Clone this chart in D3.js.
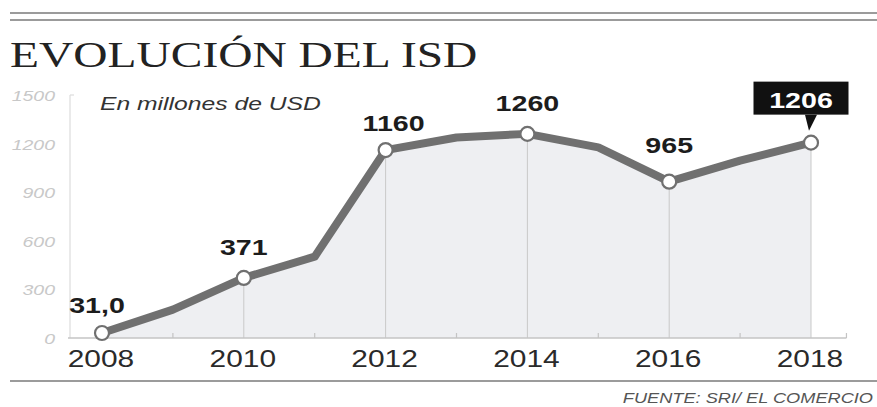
<!DOCTYPE html>
<html>
<head>
<meta charset="utf-8">
<script src="https://cdn.jsdelivr.net/npm/d3@7"></script>
<style>
  html, body { margin: 0; padding: 0; background: #fff; }
  svg { display: block; }
</style>
</head>
<body>
<div id="chart"></div>
<script>
// Data
const years = [2008, 2009, 2010, 2011, 2012, 2013, 2014, 2015, 2016, 2017, 2018];
const values = [31, 175, 371, 502, 1160, 1238, 1260, 1177, 965, 1095, 1206];
const labelYears = [2008, 2010, 2012, 2014, 2016, 2018];
const labelTexts = ["31,0", "371", "1160", "1260", "965", "1206"];
const yTicks = [0, 300, 600, 900, 1200, 1500];
const minorYears = [2009, 2011, 2013, 2015, 2017];

const W = 877, H = 407;
const SX = 1.3; // the print type is stretched horizontally

const svg = d3.select("#chart").append("svg")
  .attr("width", W).attr("height", H);

const x = d3.scaleLinear().domain([2008, 2018]).range([102, 811]);
const y = d3.scaleLinear().domain([0, 1500]).range([338, 95]);

// stretched text helper
function txt(g, px, py, s) {
  return g.append("text")
    .attr("transform", `translate(${px},${py}) scale(${SX},1)`)
    .text(s);
}

// top rules
svg.append("line").attr("x1", 10).attr("x2", W).attr("y1", 13).attr("y2", 13)
  .attr("stroke", "#7a7a7a").attr("stroke-width", 1.5);
svg.append("line").attr("x1", 10).attr("x2", W).attr("y1", 20).attr("y2", 20)
  .attr("stroke", "#7a7a7a").attr("stroke-width", 1.5);

// title
txt(svg, 10, 67, "EVOLUCIÓN DEL ISD")
  .attr("font-family", "'Liberation Serif', 'Times New Roman', serif")
  .attr("font-size", 36.5).attr("fill", "#222");

// area + line
const pts = years.map((yr, i) => ({ yr, v: values[i] }));

svg.append("path").datum(pts)
  .attr("fill", "#eeeff2")
  .attr("d", d3.area().x(d => x(d.yr)).y0(y(0)).y1(d => y(d.v)));

// vertical guides at labelled years
svg.selectAll("line.guide")
  .data(labelYears).join("line").attr("class", "guide")
  .attr("x1", d => x(d)).attr("x2", d => x(d))
  .attr("y1", d => y(values[years.indexOf(d)]))
  .attr("y2", y(0))
  .attr("stroke", "#c9c9c9").attr("stroke-width", 1);

// y axis line
svg.append("line").attr("x1", 70).attr("x2", 70).attr("y1", y(1500)).attr("y2", y(0))
  .attr("stroke", "#dcdcdc").attr("stroke-width", 1.2);
svg.append("line").attr("x1", 70).attr("x2", 74).attr("y1", y(1500)).attr("y2", y(1500))
  .attr("stroke", "#dcdcdc").attr("stroke-width", 1.2);

// x baseline
svg.append("line").attr("x1", 68).attr("x2", x(2018.5)).attr("y1", y(0)).attr("y2", y(0))
  .attr("stroke", "#c4c4c4").attr("stroke-width", 1.5);
svg.selectAll("line.minor")
  .data(minorYears.concat([2018.5])).join("line").attr("class", "minor")
  .attr("x1", d => x(d)).attr("x2", d => x(d))
  .attr("y1", y(0)).attr("y2", y(0) - 5)
  .attr("stroke", "#c4c4c4").attr("stroke-width", 1.2);

// y labels
const yl = svg.append("g")
  .attr("font-family", "'Liberation Sans', Arial, sans-serif")
  .attr("font-style", "italic").attr("font-size", 15).attr("fill", "#c8c8c8")
  .attr("text-anchor", "end");
yTicks.forEach(t => txt(yl, 55, y(t) + 6, String(t)));

// subtitle
txt(svg, 100, 110, "En millones de USD")
  .attr("font-family", "'Liberation Sans', Arial, sans-serif")
  .attr("font-style", "italic").attr("font-size", 19).attr("fill", "#333");

// the line
svg.append("path").datum(pts)
  .attr("fill", "none").attr("stroke", "#707070").attr("stroke-width", 8)
  .attr("stroke-linejoin", "round")
  .attr("d", d3.line().x(d => x(d.yr)).y(d => y(d.v)));

// markers
svg.selectAll("circle.pt")
  .data(labelYears).join("circle").attr("class", "pt")
  .attr("cx", d => x(d))
  .attr("cy", d => y(values[years.indexOf(d)]))
  .attr("r", 7)
  .attr("fill", "#fff").attr("stroke", "#707070").attr("stroke-width", 2.2);

// x labels
const xl = svg.append("g")
  .attr("font-family", "'Liberation Sans', Arial, sans-serif")
  .attr("font-size", 23).attr("fill", "#2a2a2a")
  .attr("text-anchor", "middle");
labelYears.forEach(yr => txt(xl, x(yr) - 1, 367, String(yr)));

// value labels
const dyTweak = { 2008: -20, 2012: -19, 2016: -29 };
const last = labelYears.length - 1;

// boxed callout on the last value (drawn before the label layer)
{
  const yr = labelYears[last];
  const px = x(yr), py = y(values[years.indexOf(yr)]);
  const bw = 95, bh = 33, by = py - 61;
  svg.append("rect").attr("x", px - 10 - bw / 2).attr("y", by).attr("width", bw).attr("height", bh)
    .attr("fill", "#111");
  svg.append("path")
    .attr("d", `M${px - 6},${by + bh} L${px + 6},${by + bh} L${px - 2},${by + bh + 16} Z`)
    .attr("fill", "#111");
}

const vl = svg.append("g")
  .attr("font-family", "'Liberation Sans', Arial, sans-serif")
  .attr("font-weight", "bold").attr("font-size", 22).attr("fill", "#1c1c1c")
  .attr("text-anchor", "middle");
labelYears.forEach((yr, i) => {
  const px = x(yr), py = y(values[years.indexOf(yr)]);
  if (i === last) {
    txt(vl, px - 10, py - 35, labelTexts[i]).attr("fill", "#fff");
  } else {
    const dx = yr === 2008 ? -5 : yr === 2012 ? 8 : 0;
    txt(vl, px + dx, py + (dyTweak[yr] || -23), labelTexts[i]);
  }
});

// bottom rule + source
svg.append("line").attr("x1", 10).attr("x2", W).attr("y1", 381).attr("y2", 381)
  .attr("stroke", "#7a7a7a").attr("stroke-width", 1.5);
txt(svg, 873, 403, "FUENTE: SRI/ EL COMERCIO")
  .attr("text-anchor", "end")
  .attr("font-family", "'Liberation Sans', Arial, sans-serif")
  .attr("font-style", "italic").attr("font-size", 14).attr("fill", "#555");
</script>
</body>
</html>
